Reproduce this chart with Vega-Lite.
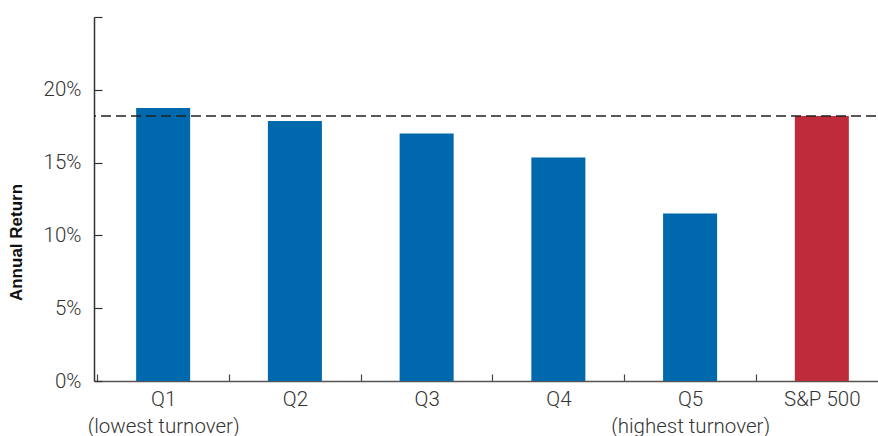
{
  "$schema": "https://vega.github.io/schema/vega-lite/v6.json",
  "autosize": {"type": "none"},
  "width": 797,
  "height": 364,
  "padding": {"left": 94, "top": 17, "right": 0, "bottom": 55},
  "background": "white",
  "config": {
    "view": {"stroke": null},
    "font": "Roboto"
  },
  "datasets": {
    "bars": [
      {"group": "Q1", "ret": 18.75, "kind": "quintile"},
      {"group": "Q2", "ret": 17.85, "kind": "quintile"},
      {"group": "Q3", "ret": 17.0, "kind": "quintile"},
      {"group": "Q4", "ret": 15.35, "kind": "quintile"},
      {"group": "Q5", "ret": 11.5, "kind": "quintile"},
      {"group": "S&P 500", "ret": 18.2, "kind": "index"}
    ],
    "ref": [{"ret": 18.2}]
  },
  "layer": [
    {
      "data": {"name": "bars"},
      "mark": {"type": "bar"},
      "encoding": {
        "x": {
          "field": "group",
          "type": "nominal",
          "sort": null,
          "scale": {"paddingInner": 0.59, "paddingOuter": 0.32},
          "axis": {
            "title": null,
            "orient": "bottom",
            "labelAngle": 0,
            "labelFont": "Roboto",
            "labelFontWeight": 300,
            "labelFontSize": 20.5,
            "labelColor": "#333333",
            "labelPadding": 15,
            "labelLineHeight": 27,
            "labelExpr": "datum.value == 'Q1' ? ['Q1', '(lowest turnover)'] : datum.value == 'Q5' ? ['Q5', '(highest turnover)'] : datum.value",
            "bandPosition": 0,
            "tickOffset": -39,
            "labelOffset": 39,
            "tickSize": -7,
            "tickColor": "#444444",
            "tickWidth": 1.2,
            "domainColor": "#555555",
            "domainWidth": 1.5,
            "grid": false
          }
        },
        "y": {
          "field": "ret",
          "type": "quantitative",
          "scale": {"domain": [0, 25], "nice": false},
          "axis": {
            "title": "Annual Return",
            "titleFont": "Liberation Sans",
            "titleFontWeight": "bold",
            "titleFontSize": 17,
            "titleColor": "#111111",
            "titleY": 225,
            "titlePadding": 18,
            "values": [0, 5, 10, 15, 20, 25],
            "labelExpr": "datum.value == 25 ? '' : datum.value + '%'",
            "labelFont": "Roboto",
            "labelFontWeight": 300,
            "labelFontSize": 20.5,
            "labelColor": "#333333",
            "labelPadding": 21,
            "tickSize": -8,
            "tickColor": "#333333",
            "tickWidth": 1.2,
            "domainColor": "#333333",
            "domainWidth": 1.5,
            "grid": false
          }
        },
        "color": {
          "field": "kind",
          "type": "nominal",
          "scale": {"domain": ["quintile", "index"], "range": ["#0068ac", "#be2b39"]},
          "legend": null
        }
      }
    },
    {
      "data": {"name": "ref"},
      "mark": {"type": "rule", "strokeDash": [10, 5], "strokeWidth": 1.5, "color": "#222222"},
      "encoding": {
        "y": {"field": "ret", "type": "quantitative"}
      }
    }
  ]
}
